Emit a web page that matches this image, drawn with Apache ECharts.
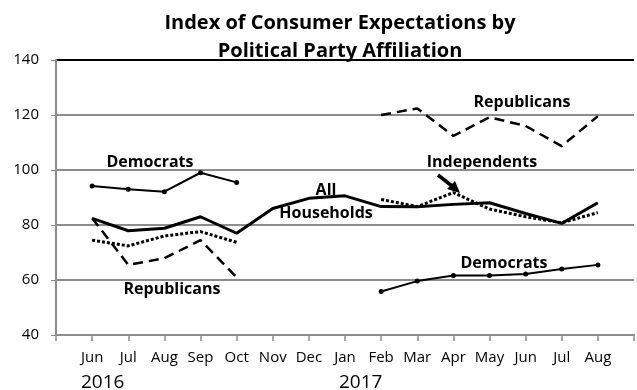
<!DOCTYPE html>
<html>
<head>
<meta charset="utf-8">
<script src="https://cdn.jsdelivr.net/npm/echarts@6/dist/echarts.min.js"></script>
<style>
  html, body { margin: 0; padding: 0; background: #fff; }
  #chart { width: 637px; height: 390px; }
</style>
</head>
<body>
<div id="chart"></div>
<script>
// months Jun 2016 .. Aug 2017 (padded with an empty slot at each end, like the original)
const monthKeys = ['pad0', '2016-06', '2016-07', '2016-08', '2016-09', '2016-10', '2016-11', '2016-12',
  '2017-01', '2017-02', '2017-03', '2017-04', '2017-05', '2017-06', '2017-07', '2017-08', 'pad1'];
const monthLabels = ['', 'Jun', 'Jul', 'Aug', 'Sep', 'Oct', 'Nov', 'Dec', 'Jan',
  'Feb', 'Mar', 'Apr', 'May', 'Jun', 'Jul', 'Aug', ''];
const yTicks = [40, 60, 80, 100, 120, 140];

const allHouseholds = [null, 82.4, 77.9, 78.8, 83.0, 77.0, 86.0, 89.7, 90.6,
  86.7, 86.6, 87.5, 88.1, 84.2, 80.6, 88.1, null];
const democrats = [null, 94.2, 93.0, 92.1, 99.0, 95.5, null, null, null,
  55.8, 59.6, 61.6, 61.6, 62.2, 64.0, 65.5, null];
const republicans = [null, 82.5, 65.5, 67.9, 74.5, 61.0, null, null, null,
  120.0, 122.4, 112.4, 119.2, 116.0, 108.7, 119.6, null];
const independents = [null, 74.5, 72.4, 76.0, 77.6, 73.7, null, null, null,
  89.3, 86.7, 91.8, 85.8, 83.0, 80.8, 84.5, null];

const FONT = '"Open Sans", sans-serif';
const chart = echarts.init(document.getElementById('chart'), null, { renderer: 'canvas' });

function lbl(text, x, y) {
  return {
    type: 'text', x: x, y: y,
    style: { text: text, font: 'bold 16px ' + FONT, fill: '#000', align: 'center', verticalAlign: 'middle' }
  };
}

const option = {
  animation: false,
  backgroundColor: '#fff',
  title: {
    text: 'Index of Consumer Expectations by\nPolitical Party Affiliation',
    left: 335, top: 4, textAlign: 'center',
    textStyle: { fontFamily: FONT, fontWeight: 'bold', fontSize: 20, lineHeight: 28, color: '#000' }
  },
  grid: { left: 56, top: 60, width: 590, height: 275 },
  xAxis: {
    type: 'category',
    data: monthKeys,
    boundaryGap: false,
    axisLine: { lineStyle: { color: '#8c8c8c', width: 2 } },
    axisTick: { inside: false, length: 6, lineStyle: { color: '#8c8c8c', width: 1.5 } },
    axisLabel: {
      interval: 0, margin: 15, color: '#000', fontFamily: FONT, fontSize: 15,
      formatter: (v, i) => monthLabels[i]
    },
    splitLine: { show: false }
  },
  yAxis: {
    type: 'value',
    min: 40, max: 140, interval: 20,
    axisLine: { show: true, lineStyle: { color: '#8c8c8c', width: 2 } },
    axisTick: { show: true, length: 5, lineStyle: { color: '#8c8c8c' } },
    axisLabel: { margin: 17, color: '#000', fontFamily: FONT, fontSize: 15 },
    splitLine: {
      lineStyle: { color: yTicks.map(t => t === 140 ? '#000' : '#8c8c8c'), width: 2 }
    }
  },
  series: [
    {
      name: 'Independents', type: 'line', data: independents,
      showSymbol: false, connectNulls: false,
      lineStyle: { color: '#000', width: 3, type: [3, 2] }
    },
    {
      name: 'Republicans', type: 'line', data: republicans,
      showSymbol: false, connectNulls: false,
      lineStyle: { color: '#000', width: 2.5, type: [10, 6] }
    },
    {
      name: 'Democrats', type: 'line', data: democrats,
      symbol: 'circle', symbolSize: 5, connectNulls: false,
      itemStyle: { color: '#000' },
      lineStyle: { color: '#000', width: 2 }
    },
    {
      name: 'All Households', type: 'line', data: allHouseholds,
      showSymbol: false,
      lineStyle: { color: '#000', width: 3 }
    }
  ],
  graphic: [
    lbl('Democrats', 150, 162),
    lbl('All', 326, 190),
    lbl('Households', 326, 213),
    lbl('Republicans', 522, 102),
    lbl('Independents', 482, 162),
    lbl('Republicans', 172, 289),
    lbl('Democrats', 504, 263),
    {
      type: 'line',
      shape: { x1: 438, y1: 175, x2: 452, y2: 186 },
      style: { stroke: '#000', lineWidth: 3.5 }
    },
    {
      type: 'polygon',
      shape: { points: [[460, 193], [447, 189], [455, 181]] },
      style: { fill: '#000' }
    },
    {
      type: 'text', x: 81, y: 383,
      style: { text: '2016', font: '19px ' + FONT, fill: '#000', align: 'left', verticalAlign: 'middle' }
    },
    {
      type: 'text', x: 339, y: 383,
      style: { text: '2017', font: '19px ' + FONT, fill: '#000', align: 'left', verticalAlign: 'middle' }
    }
  ]
};

chart.setOption(option);
</script>
</body>
</html>
